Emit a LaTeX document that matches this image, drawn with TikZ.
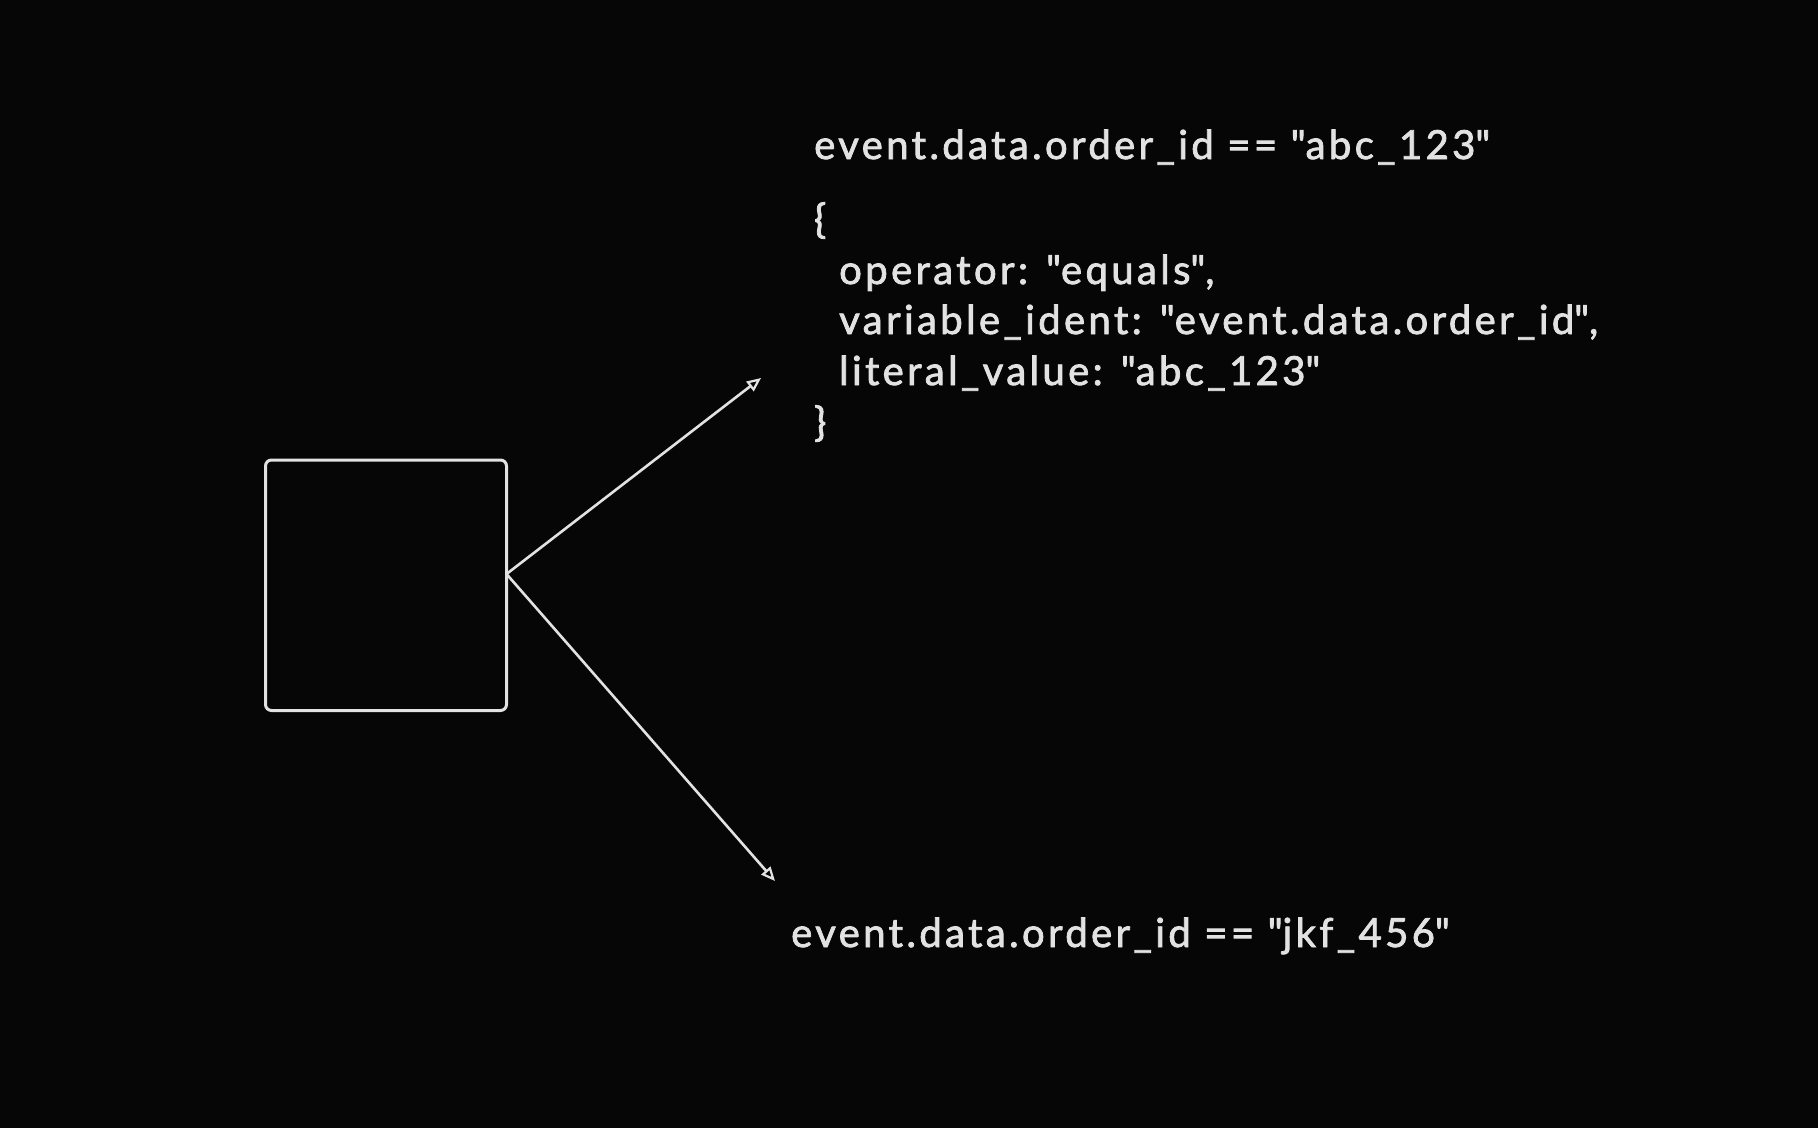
\documentclass[tikz,border=0pt]{standalone}
\usepackage{fontspec}
\setmainfont{Lato}[LetterSpace=8.5, FakeBold=2]
\usetikzlibrary{arrows.meta}
\definecolor{bg}{RGB}{6,6,6}
\definecolor{ink}{RGB}{226,226,226}
\newcommand{\dq}{\XeTeXglyph\XeTeXcharglyph34\relax}
\tikzset{
  txt/.style={anchor=base west, inner sep=0pt, text=ink, font=\fontsize{40}{48}\selectfont},
  boxst/.style={draw=ink, line width=3pt, rounded corners=6pt},
  conn/.style={draw=ink, line width=2.6pt, -{Triangle[open, length=14pt, width=12pt, line width=2.2pt]}}
}
\begin{document}
\begin{tikzpicture}[x=1pt,y=-1pt]
\fill[bg] (0,0) rectangle (1818,1128);
\useasboundingbox (0,0) rectangle (1818,1128);
\draw[boxst] (265.5,460) rectangle (506.5,710.5);
\node[inner sep=0pt, minimum width=241pt, minimum height=250pt] (box) at (386,585) {};
\coordinate (src) at (506.5,574);
\coordinate (t1) at (761,378);
\coordinate (t2) at (775,881);
\draw[conn] (src) -- (t1);
\draw[conn] (src) -- (t2);
\node[txt] (l1) at (814,159) {event.data.order\_id == \dq abc\_123\dq};
\node[txt] (j1) at (814,233) {\{};
\node[txt] (j2) at (839,284) {operator: \dq equals\dq,};
\node[txt] (j3) at (839,334) {variable\_ident: \dq event.data.order\_id\dq,};
\node[txt] (j4) at (839,385) {literal\_value: \dq abc\_123\dq};
\node[txt] (j5) at (814,436) {\}};
\node[txt] (l2) at (791,947) {event.data.order\_id == \dq jkf\_456\dq};
\end{tikzpicture}
\end{document}
